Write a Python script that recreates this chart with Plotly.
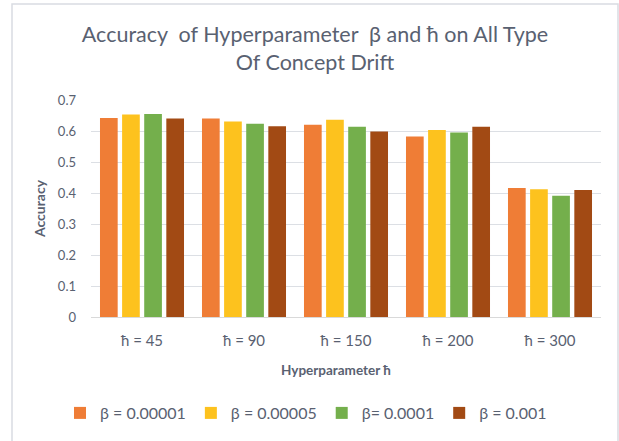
import plotly.graph_objects as go

categories = ["ħ = 45", "ħ = 90", "ħ = 150", "ħ = 200", "ħ = 300"]
series_names = ["β = 0.00001", "β = 0.00005", "β= 0.0001", "β = 0.001"]
beta_00001 = [0.642, 0.640, 0.620, 0.582, 0.416]
beta_00005 = [0.653, 0.631, 0.636, 0.603, 0.412]
beta_0001 = [0.655, 0.623, 0.614, 0.595, 0.391]
beta_001 = [0.640, 0.615, 0.598, 0.614, 0.410]
y_ticks = [0, 0.1, 0.2, 0.3, 0.4, 0.5, 0.6, 0.7]
y_tick_labels = ["0", "0.1", "0.2", "0.3", "0.4", "0.5", "0.6", "0.7"]

series_values = [beta_00001, beta_00005, beta_0001, beta_001]
colors = ["#EF7D36", "#FDC21E", "#74AF4C", "#A24A14"]

FONT = "Lato, 'Open Sans', sans-serif"
TXT = "#596171"

fig = go.Figure()
for name, vals, col in zip(series_names, series_values, colors):
    fig.add_trace(go.Bar(
        x=categories, y=vals, name=name,
        marker=dict(color=col, line=dict(width=0)),
    ))

fig.update_layout(
    width=619, height=441,
    margin=dict(l=91, r=18, t=100, b=124),
    paper_bgcolor="white", plot_bgcolor="white",
    font=dict(family=FONT, color=TXT),
    barmode="group", bargap=0.133, bargroupgap=0.2,
    title=dict(
        text="Accuracy  of Hyperparameter  β and ħ on All Type<br>Of Concept Drift",
        x=315/619, xanchor="center", xref="container",
        y=1-42/441, yanchor="top", yref="container",
        font=dict(size=21.5, color=TXT, family=FONT),
    ),
    xaxis=dict(
        tickfont=dict(size=15, color=TXT),
        showgrid=False, showline=True, linecolor="#D9D9D9", linewidth=1,
        ticks="", ticklabelstandoff=10,
    ),
    yaxis=dict(
        range=[0, 0.7], tickvals=y_ticks, ticktext=y_tick_labels,
        tickfont=dict(size=13, color=TXT),
        showgrid=True, gridcolor="#DCDFE4", gridwidth=1.3,
        zeroline=False, showline=False, ticks="", ticklabelstandoff=14,
        title=dict(text="<b>Accuracy</b>", font=dict(size=14, color=TXT), standoff=8),
    ),
    annotations=[dict(
        text="<b>Hyperparameter ħ</b>", xref="paper", yref="paper",
        x=(336-91)/510, y=(317-370)/217, xanchor="center", yanchor="middle",
        showarrow=False, font=dict(size=13.5, color=TXT),
    )],
    legend=dict(
        orientation="h", x=306/619, xanchor="center", xref="container",
        y=(441-413)/441, yanchor="middle", yref="container",
        font=dict(size=16, color=TXT), itemwidth=30, traceorder="normal",
    ),
    shapes=[dict(
        type="rect", xref="paper", yref="paper",
        x0=(12-91)/510, x1=(618-91)/510,
        y0=(317-445)/217, y1=(317-4)/217,
        line=dict(color="#D9DCE2", width=1.5), fillcolor="rgba(0,0,0,0)", layer="below",
    )],
)

fig.write_html(
    "out.html",
    config={"displayModeBar": False},
    post_script="document.body.style.margin='0';document.body.style.overflow='hidden';",
)
